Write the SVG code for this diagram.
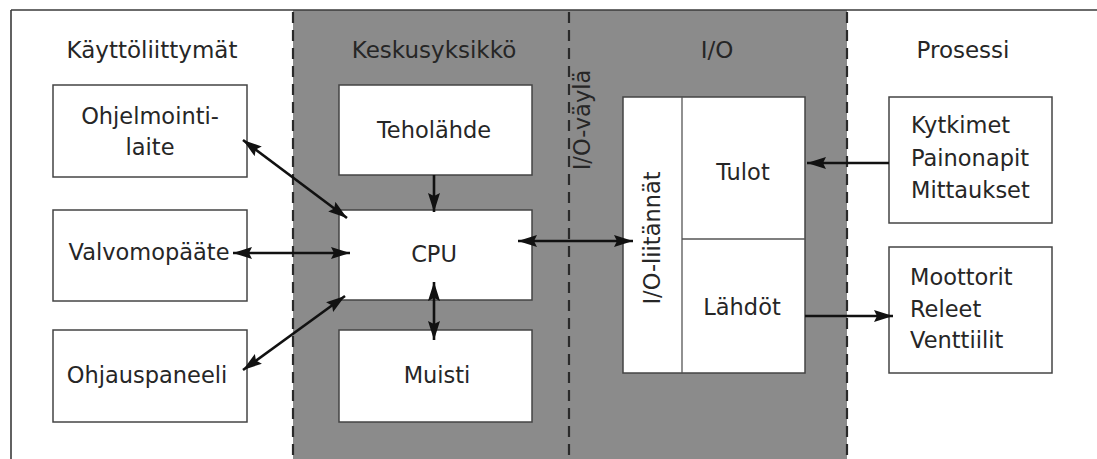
<svg xmlns="http://www.w3.org/2000/svg" width="1097" height="459" viewBox="0 0 1097 459">
<defs>
<style>
.bg{fill:#ffffff}
.band{fill:#8b8b8b}
.frame{fill:none;stroke:#3a3a3a;stroke-width:1.6}
.dash{fill:none;stroke:#2a2a2a;stroke-width:2.2;stroke-dasharray:11 7}
.box{fill:#ffffff;stroke:#444444;stroke-width:1.5}
.div{fill:none;stroke:#555555;stroke-width:1.3}
.t{font-family:"DejaVu Sans","Liberation Sans",sans-serif;font-size:22.5px;fill:#262626}
.h{font-size:23px}
.c{text-anchor:middle}
.arr{fill:none;stroke:#111111;stroke-width:2.6}
</style>
<marker id="ah" viewBox="0 0 19 12" refX="19" refY="6" markerWidth="19" markerHeight="12" markerUnits="userSpaceOnUse" orient="auto-start-reverse">
<path d="M0,0 L19,6 L0,12 L3,6 z" fill="#111111"/>
</marker>
</defs>
<rect class="bg" x="0" y="0" width="1097" height="459"/>
<rect class="band" x="293" y="10" width="554" height="449"/>
<g id="frame">
<line class="frame" x1="11" y1="10" x2="1097" y2="10"/>
<line class="frame" x1="11" y1="10" x2="11" y2="459"/>
<line class="dash" x1="293" y1="12" x2="293" y2="459"/>
<line class="dash" x1="569" y1="12" x2="569" y2="459"/>
<line class="dash" x1="847" y1="12" x2="847" y2="459"/>
</g>
<g id="headers">
<text class="t h c" x="152" y="58">Käyttöliittymät</text>
<text class="t h c" x="434" y="58">Keskusyksikkö</text>
<text class="t h c" x="717" y="58">I/O</text>
<text class="t h c" x="963" y="58">Prosessi</text>
<text class="t c" transform="translate(590,120) rotate(-90)">I/O-väylä</text>
</g>
<g id="ohjelmointilaite">
<rect class="box" x="53" y="85" width="194" height="92"/>
<text class="t c" x="150" y="124">Ohjelmointi-</text>
<text class="t c" x="150" y="155">laite</text>
</g>
<g id="valvomopaate">
<rect class="box" x="53" y="210" width="194" height="91"/>
<text class="t c" x="149" y="260">Valvomopääte</text>
</g>
<g id="ohjauspaneeli">
<rect class="box" x="53" y="330" width="194" height="92"/>
<text class="t c" x="147" y="383">Ohjauspaneeli</text>
</g>
<g id="teholahde">
<rect class="box" x="339" y="85" width="193" height="90"/>
<text class="t c" x="434" y="138">Teholähde</text>
</g>
<g id="cpu">
<rect class="box" x="339" y="210" width="193" height="90"/>
<text class="t c" x="434" y="262">CPU</text>
</g>
<g id="muisti">
<rect class="box" x="339" y="330" width="193" height="92"/>
<text class="t c" x="437" y="383">Muisti</text>
</g>
<g id="io">
<rect class="box" x="623" y="97" width="182" height="276"/>
<line class="div" x1="682" y1="97" x2="682" y2="373"/>
<line class="div" x1="682" y1="239" x2="805" y2="239"/>
<text class="t c" transform="translate(660,238) rotate(-90)">I/O-liitännät</text>
<text class="t c" x="743" y="180">Tulot</text>
<text class="t c" x="742" y="315">Lähdöt</text>
</g>
<g id="kytkimet">
<rect class="box" x="889" y="97" width="163" height="126"/>
<text class="t" x="911" y="133">Kytkimet</text>
<text class="t" x="911" y="166">Painonapit</text>
<text class="t" x="911" y="198">Mittaukset</text>
</g>
<g id="moottorit">
<rect class="box" x="889" y="247" width="163" height="126"/>
<text class="t" x="910" y="285">Moottorit</text>
<text class="t" x="910" y="317">Releet</text>
<text class="t" x="910" y="348">Venttiilit</text>
</g>
<g id="connectors">
<line class="arr" x1="243" y1="140" x2="347" y2="218" marker-start="url(#ah)" marker-end="url(#ah)"/>
<line class="arr" x1="233" y1="253" x2="350" y2="253" marker-start="url(#ah)" marker-end="url(#ah)"/>
<line class="arr" x1="243" y1="370" x2="345" y2="296" marker-start="url(#ah)" marker-end="url(#ah)"/>
<line class="arr" x1="434" y1="175" x2="434" y2="212" marker-end="url(#ah)"/>
<line class="arr" x1="434" y1="282" x2="434" y2="340" marker-start="url(#ah)" marker-end="url(#ah)"/>
<line class="arr" x1="518" y1="241" x2="633" y2="241" marker-start="url(#ah)" marker-end="url(#ah)"/>
<line class="arr" x1="889" y1="163" x2="807" y2="163" marker-end="url(#ah)"/>
<line class="arr" x1="805" y1="316" x2="893" y2="316" marker-end="url(#ah)"/>
</g>
</svg>
